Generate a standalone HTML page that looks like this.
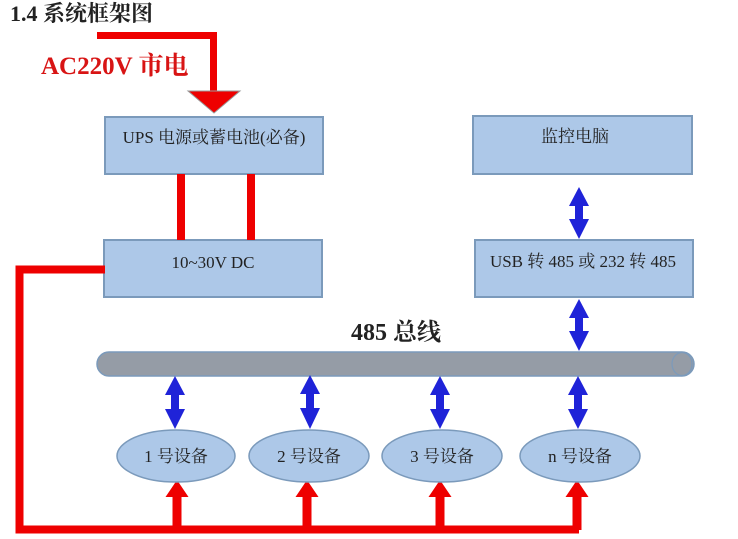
<!DOCTYPE html>
<html><head><meta charset="utf-8"><style>
body{margin:0;background:#fff;width:738px;height:539px;overflow:hidden}
svg{display:block}
text{font-family:"Liberation Serif","Noto Serif CJK SC","Noto Sans CJK SC",serif;fill:#222}
</style></head><body>
<svg width="738" height="539" viewBox="0 0 738 539" xmlns="http://www.w3.org/2000/svg">
<text x="10" y="21" font-size="22" font-weight="bold">1.4  系统框架图</text>
<path d="M97,35.5 H213.5 V92" fill="none" stroke="#e00" stroke-width="7"/>
<polygon points="188,91 240,91 214,113" fill="#e00" stroke="#999" stroke-width="1"/>
<text x="41" y="74" font-size="25" font-weight="bold" style="fill:#d81414">AC220V 市电</text>
<g fill="#adc8e8" stroke="#7b9abb" stroke-width="2">
<rect x="105" y="117" width="218" height="57"/>
<rect x="104" y="240" width="218" height="57"/>
<rect x="473" y="116" width="219" height="58"/>
<rect x="475" y="240" width="218" height="57"/>
</g>
<text x="214" y="143" font-size="17" text-anchor="middle">UPS 电源或蓄电池(必备)</text>
<text x="213" y="268" font-size="17" text-anchor="middle">10~30V DC</text>
<text x="575" y="142" font-size="17" text-anchor="middle">监控电脑</text>
<text x="583" y="267" font-size="17" text-anchor="middle">USB 转 485 或 232 转 485</text>
<rect x="177" y="174" width="8" height="66" fill="#e00"/>
<rect x="247" y="174" width="8" height="66" fill="#e00"/>
<path d="M105,269.5 H19.5 V529.5 H579" fill="none" stroke="#e00" stroke-width="8"/>
<g fill="#e00">
<g transform="translate(177,0)"><rect x="-4.5" y="494" width="9" height="36"/><polygon points="-11.5,497 11.5,497 0,480"/></g>
<g transform="translate(307,0)"><rect x="-4.5" y="494" width="9" height="36"/><polygon points="-11.5,497 11.5,497 0,480"/></g>
<g transform="translate(440,0)"><rect x="-4.5" y="494" width="9" height="36"/><polygon points="-11.5,497 11.5,497 0,480"/></g>
<g transform="translate(577,0)"><rect x="-4.5" y="494" width="9" height="36"/><polygon points="-11.5,497 11.5,497 0,480"/></g>
</g>
<rect x="97" y="352" width="597" height="24" rx="12" fill="#959ca6" stroke="#7b9abb" stroke-width="1.5"/>
<ellipse cx="682" cy="364" rx="10" ry="11.5" fill="#959ca6" stroke="#7b9abb" stroke-width="1.2"/>
<text x="351" y="340" font-size="24" font-weight="bold">485 总线</text>
<g fill="#1f23d8">
<g transform="translate(175,376)"><polygon points="0,0 10,19 -10,19"/><rect x="-4" y="18" width="8" height="17"/><polygon points="-10,33 10,33 0,53"/></g>
<g transform="translate(310,375)"><polygon points="0,0 10,19 -10,19"/><rect x="-4" y="18" width="8" height="17"/><polygon points="-10,33 10,33 0,54"/></g>
<g transform="translate(440,376)"><polygon points="0,0 10,19 -10,19"/><rect x="-4" y="18" width="8" height="17"/><polygon points="-10,33 10,33 0,53"/></g>
<g transform="translate(578,376)"><polygon points="0,0 10,19 -10,19"/><rect x="-4" y="18" width="8" height="17"/><polygon points="-10,33 10,33 0,53"/></g>
<g transform="translate(579,187)"><polygon points="0,0 10,19 -10,19"/><rect x="-4" y="18" width="8" height="17"/><polygon points="-10,32 10,32 0,52"/></g>
<g transform="translate(579,299)"><polygon points="0,0 10,19 -10,19"/><rect x="-4" y="18" width="8" height="17"/><polygon points="-10,32 10,32 0,52"/></g>
</g>
<g fill="#adc8e8" stroke="#7b9abb" stroke-width="1.5">
<ellipse cx="176" cy="456" rx="59" ry="26"/>
<ellipse cx="309" cy="456" rx="60" ry="26"/>
<ellipse cx="442" cy="456" rx="60" ry="26"/>
<ellipse cx="580" cy="456" rx="60" ry="26"/>
</g>
<text x="176" y="462" font-size="17" text-anchor="middle">1 号设备</text>
<text x="309" y="462" font-size="17" text-anchor="middle">2 号设备</text>
<text x="442" y="462" font-size="17" text-anchor="middle">3 号设备</text>
<text x="580" y="462" font-size="17" text-anchor="middle">n 号设备</text>
</svg>
</body></html>
